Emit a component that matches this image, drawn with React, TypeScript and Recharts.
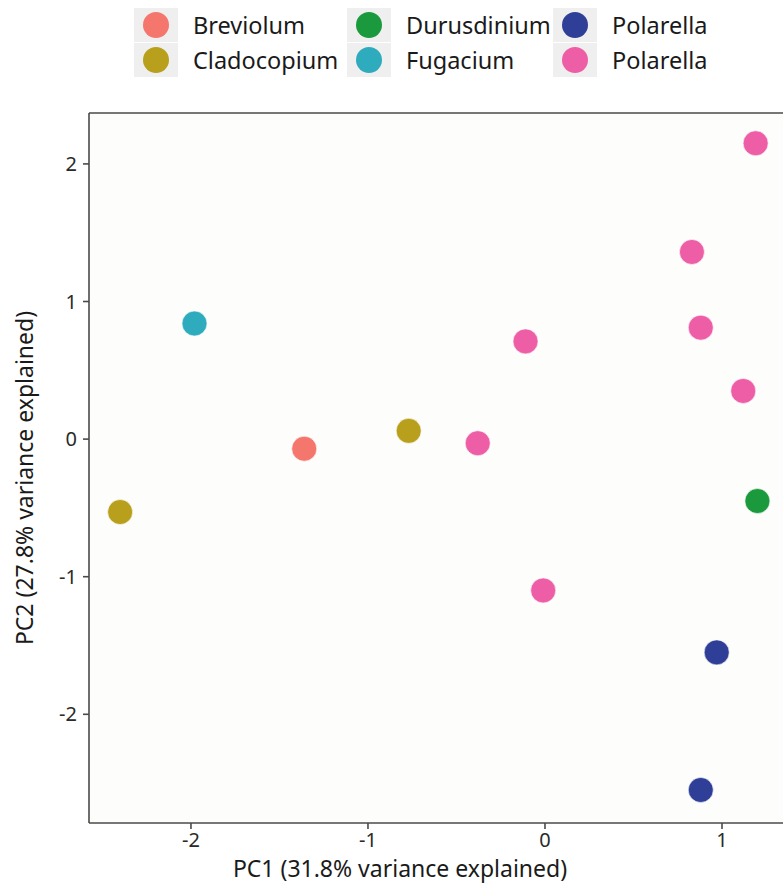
import { ReferenceLine, Scatter, ScatterChart, XAxis, YAxis } from "recharts"

const GROUPS = ["Breviolum", "Cladocopium", "Durusdinium", "Fugacium", "Polarella", "Polarella"]
const COLORS = ["#F4766D", "#B89F1C", "#1A9A3D", "#2EACBD", "#2F3F98", "#EE5EA6"]

// PC1 / PC2 scores per group
const breviolumX = [-1.36]
const breviolumY = [-0.07]
const cladocopiumX = [-0.77, -2.4]
const cladocopiumY = [0.06, -0.53]
const durusdiniumX = [1.2]
const durusdiniumY = [-0.45]
const fugaciumX = [-1.98]
const fugaciumY = [0.84]
const polarellaBlueX = [0.97, 0.88]
const polarellaBlueY = [-1.55, -2.55]
const polarellaPinkX = [1.19, 0.83, 0.88, 1.12, -0.11, -0.38, -0.01]
const polarellaPinkY = [2.15, 1.36, 0.81, 0.35, 0.71, -0.03, -1.1]

const X_TICKS = [-2, -1, 0, 1]
const Y_TICKS = [-2, -1, 0, 1, 2]
const X_DOMAIN = [-2.576, 1.37]
const Y_DOMAIN = [-2.79, 2.37]

const toPoints = (xs: number[], ys: number[]) => xs.map((x, i) => ({ x, y: ys[i] }))

const SERIES = [
  toPoints(breviolumX, breviolumY),
  toPoints(cladocopiumX, cladocopiumY),
  toPoints(durusdiniumX, durusdiniumY),
  toPoints(fugaciumX, fugaciumY),
  toPoints(polarellaBlueX, polarellaBlueY),
  toPoints(polarellaPinkX, polarellaPinkY),
]

const FONT = "'Noto Sans', sans-serif"
const AXIS = "#4a4a4a"

function LegendBox() {
  const cols = [134, 347, 553]
  return (
    <div style={{ position: "absolute", left: 0, top: 0, width: 783, height: 90, fontFamily: FONT }}>
      {GROUPS.map((name, i) => {
        const col = Math.floor(i / 2)
        const row = i % 2
        return (
          <div
            key={i}
            style={{
              position: "absolute",
              left: cols[col],
              top: row === 0 ? 8 : 43,
              height: 34,
              display: "flex",
              alignItems: "center",
              whiteSpace: "nowrap",
            }}
          >
            <svg width={44} height={34} style={{ display: "block" }}>
              <rect width={44} height={34} fill="#f0efef" />
              <circle cx={22} cy={17} r={13} fill={COLORS[i]} />
            </svg>
            <span style={{ marginLeft: 15, fontSize: 23.5, color: "#1a1a1a" }}>{name}</span>
          </div>
        )
      })}
    </div>
  )
}

export default function App() {
  return (
    <div
      style={{
        position: "absolute",
        left: 0,
        top: 0,
        width: 783,
        height: 888,
        overflow: "hidden",
        background: "#ffffff",
      }}
    >
      <ScatterChart
        width={800}
        height={888}
        margin={{ top: 113, right: 12.5, left: 0, bottom: 0 }}
        style={{ fontFamily: FONT }}
      >
        <rect x={89} y={113} width={698} height={710} fill="#fdfdfb" />
        <XAxis
          type="number"
          dataKey="x"
          domain={X_DOMAIN}
          ticks={X_TICKS}
          allowDataOverflow
          height={65}
          stroke={AXIS}
          strokeWidth={1.6}
          tickSize={6}
          tickMargin={4}
          tick={{ fill: "#2a2a2a", fontSize: 20 }}
          tickLine={{ stroke: AXIS, strokeWidth: 1.6 }}
        />
        <YAxis
          type="number"
          dataKey="y"
          domain={Y_DOMAIN}
          ticks={Y_TICKS}
          allowDataOverflow
          width={89}
          stroke={AXIS}
          strokeWidth={1.6}
          tickSize={6}
          tickMargin={6}
          tick={{ fill: "#2a2a2a", fontSize: 20 }}
          tickLine={{ stroke: AXIS, strokeWidth: 1.6 }}
        />
        <ReferenceLine y={Y_DOMAIN[1]} stroke={AXIS} strokeWidth={1.6} />
        {SERIES.map((data, i) => (
          <Scatter
            key={i}
            name={GROUPS[i]}
            data={data}
            fill={COLORS[i]}
            isAnimationActive={false}
            shape={(props: any) => (
              <circle cx={props.cx} cy={props.cy} r={12.5} fill={COLORS[i]} stroke="#ffffff" strokeWidth={0.6} />
            )}
          />
        ))}
        <text x={400} y={877} textAnchor="middle" fontSize={23} fill="#1a1a1a" fontFamily={FONT}>
          PC1 (31.8% variance explained)
        </text>
        <text
          x={33}
          y={478}
          textAnchor="middle"
          fontSize={23}
          fill="#1a1a1a"
          fontFamily={FONT}
          transform="rotate(-90 33 478)"
        >
          PC2 (27.8% variance explained)
        </text>
      </ScatterChart>
      <LegendBox />
    </div>
  )
}
